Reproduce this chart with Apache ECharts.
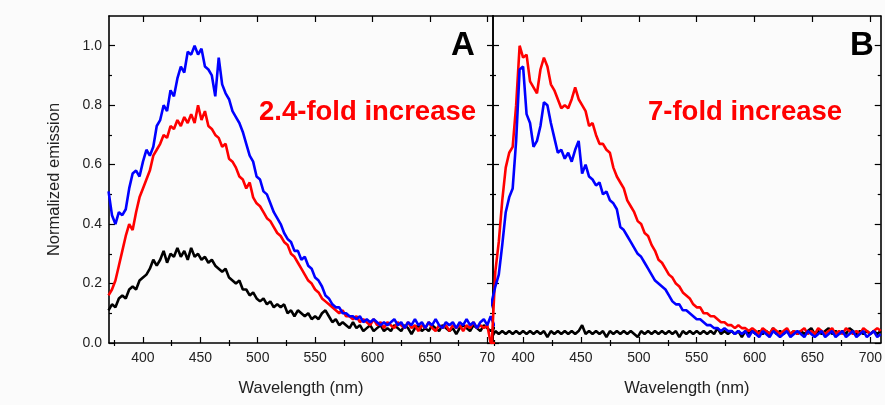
<!DOCTYPE html>
<html>
<head>
<meta charset="utf-8">
<script src="https://cdn.jsdelivr.net/npm/echarts@6/dist/echarts.min.js"></script>
<style>
  html, body { margin: 0; padding: 0; background: #fbfbfb; }
  #chart { width: 885px; height: 405px; }
</style>
</head>
<body>
<div id="chart"></div>
<script>
// wavelength grid, 3 nm step (370 ... 709)
const wavelength = []
for (let w = 370; w <= 709; w += 3) wavelength.push(w)

// Panel A
const blueA = [
  0.51, 0.43, 0.40, 0.44, 0.43, 0.45, 0.52, 0.57, 0.58, 0.56,
  0.61, 0.65, 0.63, 0.66, 0.73, 0.75, 0.80, 0.78, 0.85, 0.83,
  0.89, 0.93, 0.91, 0.98, 0.97, 1.00, 0.97, 0.99, 0.93, 0.92,
  0.90, 0.83, 0.96, 0.87, 0.84, 0.82, 0.78, 0.76, 0.74, 0.71,
  0.67, 0.63, 0.61, 0.56, 0.55, 0.51, 0.50, 0.47, 0.44, 0.42,
  0.40, 0.37, 0.35, 0.34, 0.31, 0.31, 0.28, 0.29, 0.26, 0.25,
  0.22, 0.21, 0.19, 0.16, 0.15, 0.13, 0.12, 0.12, 0.10, 0.10,
  0.09, 0.09, 0.08, 0.09, 0.07, 0.08, 0.07, 0.08, 0.07, 0.06,
  0.07, 0.06, 0.07, 0.08, 0.06, 0.07, 0.05, 0.07, 0.06, 0.08,
  0.06, 0.07, 0.05, 0.07, 0.06, 0.08, 0.06, 0.05, 0.07, 0.06,
  0.07, 0.05, 0.07, 0.06, 0.08, 0.06, 0.07, 0.05, 0.07, 0.08,
  0.06, 0.09, 0.06, 0.06
]
const redA = [
  0.16, 0.18, 0.21, 0.26, 0.31, 0.36, 0.40, 0.38, 0.44, 0.49,
  0.52, 0.55, 0.58, 0.63, 0.65, 0.67, 0.70, 0.69, 0.73, 0.72,
  0.75, 0.73, 0.76, 0.74, 0.77, 0.74, 0.80, 0.75, 0.78, 0.73,
  0.72, 0.70, 0.69, 0.66, 0.67, 0.62, 0.61, 0.59, 0.56, 0.55,
  0.52, 0.54, 0.49, 0.47, 0.46, 0.44, 0.42, 0.41, 0.39, 0.37,
  0.36, 0.34, 0.33, 0.30, 0.29, 0.27, 0.25, 0.23, 0.21, 0.20,
  0.18, 0.17, 0.15, 0.14, 0.13, 0.12, 0.11, 0.10, 0.11, 0.09,
  0.09, 0.08, 0.09, 0.07, 0.08, 0.07, 0.06, 0.08, 0.06, 0.07,
  0.05, 0.07, 0.06, 0.05, 0.07, 0.06, 0.05, 0.07, 0.05, 0.06,
  0.04, 0.06, 0.05, 0.07, 0.05, 0.04, 0.06, 0.05, 0.06, 0.04,
  0.06, 0.05, 0.06, 0.04, 0.06, 0.05, 0.07, 0.05, 0.06, 0.05,
  0.06, 0.00, 0.00, 0.00
]
const blackA = [
  0.11, 0.13, 0.12, 0.15, 0.16, 0.15, 0.18, 0.19, 0.18, 0.21,
  0.22, 0.23, 0.25, 0.28, 0.26, 0.28, 0.31, 0.27, 0.30, 0.29,
  0.32, 0.29, 0.31, 0.28, 0.32, 0.29, 0.30, 0.28, 0.29, 0.27,
  0.28, 0.26, 0.25, 0.24, 0.25, 0.22, 0.21, 0.20, 0.21, 0.18,
  0.18, 0.16, 0.17, 0.15, 0.14, 0.15, 0.13, 0.14, 0.12, 0.13,
  0.12, 0.13, 0.10, 0.11, 0.09, 0.11, 0.10, 0.09, 0.10, 0.08,
  0.09, 0.08, 0.10, 0.11, 0.09, 0.07, 0.08, 0.06, 0.07, 0.06,
  0.05, 0.07, 0.05, 0.06, 0.04, 0.05, 0.06, 0.04, 0.05, 0.06,
  0.04, 0.05, 0.04, 0.06, 0.05, 0.04, 0.06, 0.05, 0.03, 0.05,
  0.06, 0.04, 0.05, 0.04, 0.06, 0.05, 0.04, 0.06, 0.05, 0.04,
  0.05, 0.03, 0.05, 0.06, 0.05, 0.04, 0.06, 0.05, 0.04, 0.06,
  0.05, 0.04, 0.05, 0.05
]

// Panel B
const blueB = [
  0.10, 0.14, 0.19, 0.23, 0.33, 0.44, 0.49, 0.52, 0.68, 0.92,
  0.93, 0.77, 0.74, 0.66, 0.68, 0.73, 0.81, 0.80, 0.74, 0.69,
  0.64, 0.65, 0.62, 0.64, 0.61, 0.65, 0.68, 0.57, 0.60, 0.56,
  0.55, 0.53, 0.54, 0.50, 0.51, 0.48, 0.47, 0.45, 0.39, 0.38,
  0.36, 0.34, 0.32, 0.30, 0.29, 0.27, 0.25, 0.23, 0.21, 0.20,
  0.19, 0.18, 0.16, 0.14, 0.13, 0.13, 0.11, 0.11, 0.10, 0.09,
  0.08, 0.08, 0.07, 0.06, 0.06, 0.05, 0.05, 0.04, 0.05, 0.04,
  0.04, 0.03, 0.04, 0.03, 0.04, 0.02, 0.04, 0.03, 0.02, 0.04,
  0.03, 0.02, 0.04, 0.03, 0.02, 0.03, 0.04, 0.02, 0.03, 0.04,
  0.03, 0.02, 0.04, 0.03, 0.02, 0.03, 0.04, 0.02, 0.03, 0.04,
  0.02, 0.03, 0.04, 0.02, 0.03, 0.04, 0.02, 0.03, 0.04, 0.02,
  0.03, 0.04, 0.02, 0.03
]
const redB = [
  0.00, 0.00, 0.24, 0.34, 0.48, 0.59, 0.64, 0.66, 0.80, 1.00,
  0.96, 0.97, 0.88, 0.86, 0.84, 0.92, 0.96, 0.93, 0.87, 0.85,
  0.82, 0.79, 0.80, 0.79, 0.82, 0.86, 0.82, 0.80, 0.78, 0.73,
  0.74, 0.70, 0.67, 0.67, 0.65, 0.64, 0.59, 0.56, 0.54, 0.52,
  0.48, 0.46, 0.44, 0.41, 0.40, 0.37, 0.36, 0.33, 0.31, 0.28,
  0.27, 0.25, 0.23, 0.22, 0.20, 0.19, 0.17, 0.16, 0.15, 0.13,
  0.12, 0.12, 0.10, 0.10, 0.09, 0.09, 0.08, 0.07, 0.07, 0.06,
  0.06, 0.05, 0.06, 0.05, 0.05, 0.04, 0.05, 0.04, 0.03, 0.05,
  0.04, 0.03, 0.05, 0.04, 0.03, 0.04, 0.05, 0.03, 0.04, 0.03,
  0.04, 0.05, 0.03, 0.04, 0.03, 0.05, 0.04, 0.03, 0.04, 0.05,
  0.03, 0.04, 0.03, 0.05, 0.04, 0.03, 0.04, 0.03, 0.05, 0.04,
  0.03, 0.04, 0.05, 0.04
]
const blackB = [
  0.03, 0.02, 0.04, 0.03, 0.04, 0.03, 0.04, 0.03, 0.04, 0.03,
  0.04, 0.03, 0.04, 0.03, 0.04, 0.03, 0.04, 0.02, 0.04, 0.03,
  0.04, 0.03, 0.04, 0.03, 0.04, 0.03, 0.04, 0.06, 0.03, 0.04,
  0.03, 0.04, 0.03, 0.04, 0.02, 0.04, 0.03, 0.04, 0.03, 0.04,
  0.03, 0.04, 0.03, 0.02, 0.04, 0.03, 0.04, 0.03, 0.04, 0.03,
  0.04, 0.03, 0.04, 0.03, 0.04, 0.02, 0.04, 0.03, 0.04, 0.03,
  0.04, 0.03, 0.04, 0.03, 0.04, 0.03, 0.05, 0.03, 0.04, 0.03,
  0.04, 0.03, 0.04, 0.02, 0.04, 0.03, 0.04, 0.03, 0.04, 0.03,
  0.04, 0.03, 0.05, 0.03, 0.04, 0.03, 0.04, 0.03, 0.04, 0.03,
  0.04, 0.03, 0.04, 0.05, 0.03, 0.04, 0.03, 0.04, 0.05, 0.03,
  0.04, 0.03, 0.04, 0.03, 0.05, 0.04, 0.03, 0.04, 0.03, 0.04,
  0.03, 0.04, 0.03, 0.04
]

// ticks
const xMajorTicks = [400, 450, 500, 550, 600, 650, 700]
const xMinorTicks = [375, 425, 475, 525, 575, 625, 675]
const yMajorTicks = [0, 0.2, 0.4, 0.6, 0.8, 1.0]
const yMinorTicks = [0.1, 0.3, 0.5, 0.7, 0.9]

const FONT = '"Liberation Sans", Arial, sans-serif'
const lineCol = '#000'

function axis (gridIndex, position, min, max, ticks, len, opts) {
  opts = opts || {}
  return Object.assign({
    type: 'value',
    gridIndex: gridIndex,
    position: position,
    min: min,
    max: max,
    axisLine: { show: true, onZero: false, lineStyle: { color: lineCol, width: 1.6 } },
    axisTick: { show: true, inside: true, length: len, customValues: ticks, lineStyle: { color: lineCol, width: 1.2 } },
    axisLabel: { show: false },
    splitLine: { show: false }
  }, opts)
}

function xLabels (fmt) {
  return {
    show: true, customValues: xMajorTicks, margin: 8,
    color: '#222', fontSize: 14, fontFamily: FONT,
    formatter: fmt
  }
}

const xName = {
  name: 'Wavelength (nm)',
  nameLocation: 'middle',
  nameGap: 37,
  nameTextStyle: { color: '#222', fontSize: 16.5, fontFamily: FONT }
}

const xA = [370.4, 705]
const xB = [374, 709]
const yR = [0, 1.1]

const xAxes = [
  // panel A
  axis(0, 'bottom', xA[0], xA[1], xMajorTicks, 6, Object.assign({
    axisLabel: xLabels(v => (v === 700 ? '70' : String(v)))
  }, xName)),
  axis(0, 'bottom', xA[0], xA[1], xMinorTicks, 3, { axisLine: { show: false } }),
  axis(0, 'top', xA[0], xA[1], xMajorTicks, 6),
  axis(0, 'top', xA[0], xA[1], xMinorTicks, 3, { axisLine: { show: false } }),
  // panel B
  axis(1, 'bottom', xB[0], xB[1], xMajorTicks, 6, Object.assign({
    axisLabel: xLabels(v => String(v))
  }, xName)),
  axis(1, 'bottom', xB[0], xB[1], xMinorTicks, 3, { axisLine: { show: false } }),
  axis(1, 'top', xB[0], xB[1], xMajorTicks, 6),
  axis(1, 'top', xB[0], xB[1], xMinorTicks, 3, { axisLine: { show: false } })
]

const yAxes = [
  axis(0, 'left', yR[0], yR[1], yMajorTicks, 6, {
    axisLabel: {
      show: true, customValues: yMajorTicks, margin: 7,
      color: '#222', fontSize: 14, fontFamily: FONT,
      formatter: v => v.toFixed(1)
    },
    name: 'Normalized emission',
    nameLocation: 'middle',
    nameGap: 46,
    nameTextStyle: { color: '#222', fontSize: 16.5, fontFamily: FONT }
  }),
  axis(0, 'left', yR[0], yR[1], yMinorTicks, 3, { axisLine: { show: false } }),
  axis(0, 'right', yR[0], yR[1], yMajorTicks, 6),
  axis(0, 'right', yR[0], yR[1], yMinorTicks, 3, { axisLine: { show: false } }),
  axis(1, 'left', yR[0], yR[1], yMajorTicks, 6),
  axis(1, 'left', yR[0], yR[1], yMinorTicks, 3, { axisLine: { show: false } }),
  axis(1, 'right', yR[0], yR[1], yMajorTicks, 6),
  axis(1, 'right', yR[0], yR[1], yMinorTicks, 3, { axisLine: { show: false } })
]

function line (values, color, axisIndex) {
  return {
    type: 'line',
    xAxisIndex: axisIndex,
    yAxisIndex: axisIndex,
    data: wavelength.map((w, i) => [w, values[i]]),
    showSymbol: false,
    symbol: 'none',
    silent: true,
    lineStyle: { color: color, width: 2.6 },
    itemStyle: { color: color }
  }
}

const option = {
  backgroundColor: '#fbfbfb',
  animation: false,
  grid: [
    { left: 109, top: 16, width: 384, height: 327 },
    { left: 493, top: 16, width: 390, height: 327 }
  ],
  xAxis: xAxes,
  yAxis: yAxes,
  series: [
    line(blackA, '#000000', 0),
    line(redA, '#ff0000', 0),
    line(blueA, '#0000ff', 0),
    line(blackB, '#000000', 4),
    line(redB, '#ff0000', 4),
    line(blueB, '#0000ff', 4)
  ],
  graphic: [
    { type: 'text', x: 463, y: 46, style: { text: 'A', fill: '#000', font: 'bold 33px ' + FONT, align: 'center', verticalAlign: 'middle' } },
    { type: 'text', x: 862, y: 46, style: { text: 'B', fill: '#000', font: 'bold 33px ' + FONT, align: 'center', verticalAlign: 'middle' } },
    { type: 'text', x: 259, y: 112, style: { text: '2.4-fold increase', fill: '#ff0000', font: 'bold 27.5px ' + FONT, align: 'left', verticalAlign: 'middle' } },
    { type: 'text', x: 648, y: 112, style: { text: '7-fold increase', fill: '#ff0000', font: 'bold 27.5px ' + FONT, align: 'left', verticalAlign: 'middle' } }
  ]
}

const chart = echarts.init(document.getElementById('chart'))
chart.setOption(option)
window.addEventListener('resize', () => chart.resize())
</script>
</body>
</html>
